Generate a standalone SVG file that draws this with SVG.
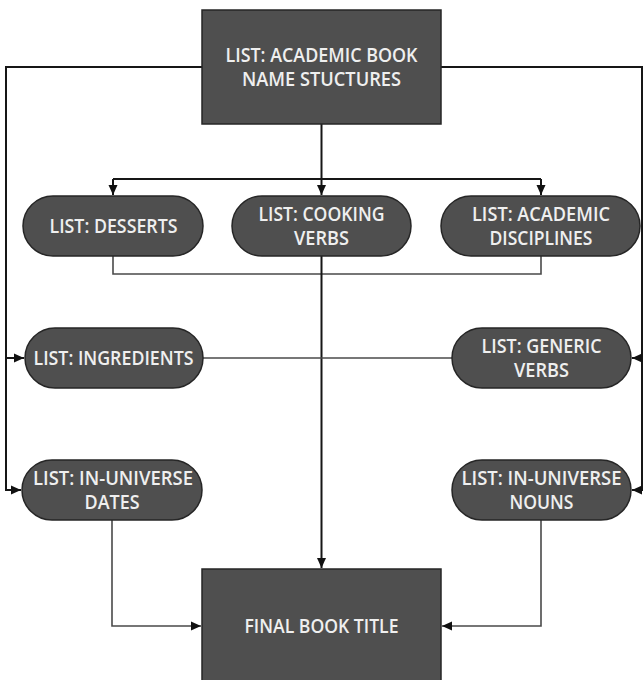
<svg xmlns="http://www.w3.org/2000/svg" width="643" height="680" viewBox="0 0 643 680">
  <defs>
    <marker id="arrow" markerUnits="userSpaceOnUse" markerWidth="10" markerHeight="10" viewBox="0 0 10 10" refX="10" refY="5" orient="auto">
      <path d="M0,0.5 L10,5 L0,9.5 Z" fill="#111"/>
    </marker>
    <style>
      .node { fill: #4f4f4f; stroke: #262626; stroke-width: 1.5; }
      .label { font-family: "Open Sans", "Liberation Sans", sans-serif; font-size: 20px; font-weight: 600; fill: #efefef; text-anchor: middle; }
      .main { fill: none; stroke: #161616; stroke-width: 2; }
      .minor { fill: none; stroke: #4a4a4a; stroke-width: 1.6; }
    </style>
  </defs>
  <rect width="643" height="680" fill="#ffffff"/>

  <!-- connectors -->
  <g id="connectors">
    <!-- source box feeding the outer columns -->
    <path class="main" d="M202,67 H6 V490 H21" marker-end="url(#arrow)"/>
    <path class="main" d="M6,358 H24" marker-end="url(#arrow)"/>
    <path class="main" d="M441,67 H642 V490 H632" marker-end="url(#arrow)"/>
    <path class="main" d="M642,358 H632" marker-end="url(#arrow)"/>
    <!-- source box down to the first row -->
    <path class="main" d="M321.5,124 V179"/>
    <path class="main" d="M113,179 H541"/>
    <path class="main" d="M113,179 V195" marker-end="url(#arrow)"/>
    <path class="main" d="M321.5,179 V195" marker-end="url(#arrow)"/>
    <path class="main" d="M541,179 V195" marker-end="url(#arrow)"/>
    <!-- first row gathered into the final title -->
    <path class="minor" d="M113,256 V274 H541 V256"/>
    <path class="main" d="M321.5,256 V568" marker-end="url(#arrow)"/>
    <!-- ingredients / generic verbs link -->
    <path class="minor" d="M203,358 H452"/>
    <!-- lower row into the final title -->
    <path class="minor" d="M112,520 V626 H201" marker-end="url(#arrow)"/>
    <path class="minor" d="M541,520 V626 H442" marker-end="url(#arrow)"/>
  </g>

  <g id="academic-book-name-structures">
    <rect class="node" x="202" y="10" width="239" height="114"/>
    <text class="label" x="321.5" y="62" textLength="192" lengthAdjust="spacingAndGlyphs">LIST: ACADEMIC BOOK</text>
    <text class="label" x="321.5" y="86" textLength="159" lengthAdjust="spacingAndGlyphs">NAME STUCTURES</text>
  </g>

  <g id="desserts">
    <rect class="node" x="23" y="196" width="180" height="60" rx="30"/>
    <text class="label" x="113.5" y="233" textLength="128" lengthAdjust="spacingAndGlyphs">LIST: DESSERTS</text>
  </g>

  <g id="cooking-verbs">
    <rect class="node" x="232" y="196" width="179" height="60" rx="30"/>
    <text class="label" x="321.5" y="221" textLength="126" lengthAdjust="spacingAndGlyphs">LIST: COOKING</text>
    <text class="label" x="321.5" y="245" textLength="55" lengthAdjust="spacingAndGlyphs">VERBS</text>
  </g>

  <g id="academic-disciplines">
    <rect class="node" x="441" y="196" width="199" height="60" rx="30"/>
    <text class="label" x="541" y="221" textLength="138" lengthAdjust="spacingAndGlyphs">LIST: ACADEMIC</text>
    <text class="label" x="541" y="245" textLength="103" lengthAdjust="spacingAndGlyphs">DISCIPLINES</text>
  </g>

  <g id="ingredients">
    <rect class="node" x="25" y="328" width="178" height="60" rx="30"/>
    <text class="label" x="113.5" y="365" textLength="160" lengthAdjust="spacingAndGlyphs">LIST: INGREDIENTS</text>
  </g>

  <g id="generic-verbs">
    <rect class="node" x="452" y="328" width="179" height="60" rx="30"/>
    <text class="label" x="541.5" y="353" textLength="120" lengthAdjust="spacingAndGlyphs">LIST: GENERIC</text>
    <text class="label" x="541.5" y="377" textLength="55" lengthAdjust="spacingAndGlyphs">VERBS</text>
  </g>

  <g id="in-universe-dates">
    <rect class="node" x="22" y="460" width="180" height="60" rx="30"/>
    <text class="label" x="113" y="485" textLength="160" lengthAdjust="spacingAndGlyphs">LIST: IN-UNIVERSE</text>
    <text class="label" x="112" y="509" textLength="55" lengthAdjust="spacingAndGlyphs">DATES</text>
  </g>

  <g id="in-universe-nouns">
    <rect class="node" x="452" y="460" width="179" height="60" rx="30"/>
    <text class="label" x="541.5" y="485" textLength="160" lengthAdjust="spacingAndGlyphs">LIST: IN-UNIVERSE</text>
    <text class="label" x="541.5" y="509" textLength="64" lengthAdjust="spacingAndGlyphs">NOUNS</text>
  </g>

  <g id="final-book-title">
    <rect class="node" x="202" y="569" width="239" height="121"/>
    <text class="label" x="321.5" y="633" textLength="154" lengthAdjust="spacingAndGlyphs">FINAL BOOK TITLE</text>
  </g>
</svg>
